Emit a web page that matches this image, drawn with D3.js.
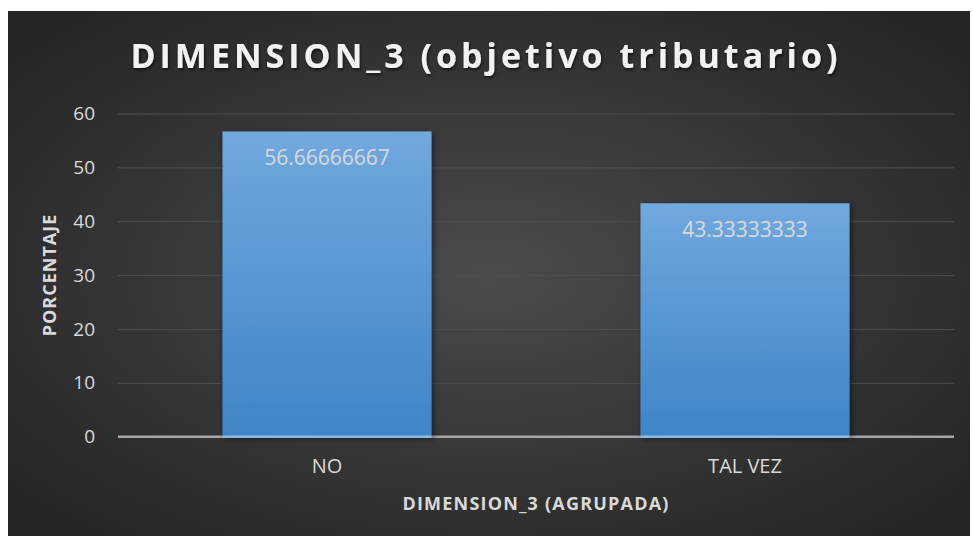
<!DOCTYPE html>
<html>
<head>
<meta charset="utf-8">
<script src="https://cdn.jsdelivr.net/npm/d3@7"></script>
<style>
  body { margin: 0; background: #ffffff; }
  svg { display: block; }
</style>
</head>
<body>
<div id="chart"></div>
<script>
  const categories = ["NO", "TAL VEZ"];
  const values = [56.66666667, 43.33333333];
  const valueLabels = ["56.66666667", "43.33333333"];
  const yTicks = [0, 10, 20, 30, 40, 50, 60];

  const W = 973, H = 541;
  const margin = { top: 113.5, right: 19, bottom: 104.3, left: 118 };
  const width = W - margin.left - margin.right;
  const height = H - margin.top - margin.bottom;
  const font = "'Open Sans', sans-serif";

  const svg = d3.select("#chart").append("svg")
    .attr("width", W).attr("height", H);

  const defs = svg.append("defs");

  // dark radial background
  const bg = defs.append("radialGradient").attr("id", "bg")
    .attr("cx", "50%").attr("cy", "50%").attr("r", "65%");
  bg.append("stop").attr("offset", "0%").attr("stop-color", "#4b4b4b");
  bg.append("stop").attr("offset", "100%").attr("stop-color", "#252525");

  const barGrad = defs.append("linearGradient").attr("id", "bar")
    .attr("x1", 0).attr("y1", 0).attr("x2", 0).attr("y2", 1);
  barGrad.append("stop").attr("offset", "0%").attr("stop-color", "#71a8de");
  barGrad.append("stop").attr("offset", "100%").attr("stop-color", "#3e85c7");

  const shadow = defs.append("filter").attr("id", "shadow")
    .attr("x", "-10%").attr("y", "-10%").attr("width", "125%").attr("height", "125%");
  shadow.append("feDropShadow").attr("dx", 2).attr("dy", 2)
    .attr("stdDeviation", 3).attr("flood-color", "#000").attr("flood-opacity", 0.5);

  const tshadow = defs.append("filter").attr("id", "tshadow");
  tshadow.append("feDropShadow").attr("dx", 1).attr("dy", 2)
    .attr("stdDeviation", 1.5).attr("flood-color", "#000").attr("flood-opacity", 0.6);

  svg.append("rect")
    .attr("x", 8).attr("y", 11).attr("width", 962).attr("height", 525)
    .attr("fill", "url(#bg)");

  const g = svg.append("g")
    .attr("transform", `translate(${margin.left},${margin.top})`);

  const x = d3.scaleBand().domain(categories).range([0, width])
    .paddingInner(0.5).paddingOuter(0.25);
  const y = d3.scaleLinear().domain([0, 60]).range([height, 0]);

  // gridlines
  g.append("g")
    .call(d3.axisLeft(y).tickValues(yTicks.slice(1)).tickSize(-width).tickFormat(""))
    .call(s => s.select(".domain").remove())
    .selectAll("line").attr("stroke", "#4f4f4f").attr("stroke-width", 1);

  // zero line
  g.append("line")
    .attr("x1", 0).attr("x2", width).attr("y1", y(0)).attr("y2", y(0))
    .attr("stroke", "#a6a6a6").attr("stroke-width", 2.5);

  // bars
  g.selectAll("rect.bar").data(values).enter().append("rect")
    .attr("class", "bar")
    .attr("x", (d, i) => x(categories[i]))
    .attr("y", d => y(d))
    .attr("width", x.bandwidth())
    .attr("height", d => height - y(d))
    .attr("fill", "url(#bar)")
    .attr("filter", "url(#shadow)");

  // light edge where the bars meet the axis
  g.selectAll("line.base").data(values).enter().append("line")
    .attr("class", "base")
    .attr("x1", (d, i) => x(categories[i]))
    .attr("x2", (d, i) => x(categories[i]) + x.bandwidth())
    .attr("y1", y(0)).attr("y2", y(0))
    .attr("stroke", "#8dbbe8").attr("stroke-width", 2.5);

  // value labels
  g.selectAll("text.val").data(values).enter().append("text")
    .attr("class", "val")
    .attr("x", (d, i) => x(categories[i]) + x.bandwidth() / 2)
    .attr("y", d => y(d) + 34)
    .attr("text-anchor", "middle")
    .attr("fill", "#d9d9d9")
    .style("font-family", font).style("font-size", "21px")
    .text((d, i) => valueLabels[i]);

  // y axis labels
  g.append("g")
    .call(d3.axisLeft(y).tickValues(yTicks).tickSize(0).tickPadding(23))
    .call(s => s.select(".domain").remove())
    .selectAll("text")
    .attr("fill", "#d9d9d9")
    .style("font-family", font).style("font-size", "19px");

  // x axis labels
  g.append("g")
    .attr("transform", `translate(0,${height})`)
    .call(d3.axisBottom(x).tickSize(0).tickPadding(22))
    .call(s => s.select(".domain").remove())
    .selectAll("text")
    .attr("fill", "#d9d9d9")
    .style("font-family", font).style("font-size", "20px");

  // title
  svg.append("text")
    .attr("x", 486).attr("y", 68)
    .attr("text-anchor", "middle")
    .attr("fill", "#f2f2f2")
    .attr("filter", "url(#tshadow)")
    .style("font-family", font).style("font-size", "34px").style("font-weight", "bold")
    .style("letter-spacing", "4px")
    .text("DIMENSION_3 (objetivo tributario)");

  // axis titles
  svg.append("text")
    .attr("transform", "translate(56,275) rotate(-90)")
    .attr("text-anchor", "middle")
    .attr("fill", "#d9d9d9")
    .style("font-family", font).style("font-size", "18px").style("font-weight", "bold")
    .style("letter-spacing", "1px")
    .text("PORCENTAJE");

  svg.append("text")
    .attr("x", 536).attr("y", 510)
    .attr("text-anchor", "middle")
    .attr("fill", "#d9d9d9")
    .style("font-family", font).style("font-size", "18px").style("font-weight", "bold")
    .style("letter-spacing", "1.2px")
    .text("DIMENSION_3 (AGRUPADA)");
</script>
</body>
</html>
